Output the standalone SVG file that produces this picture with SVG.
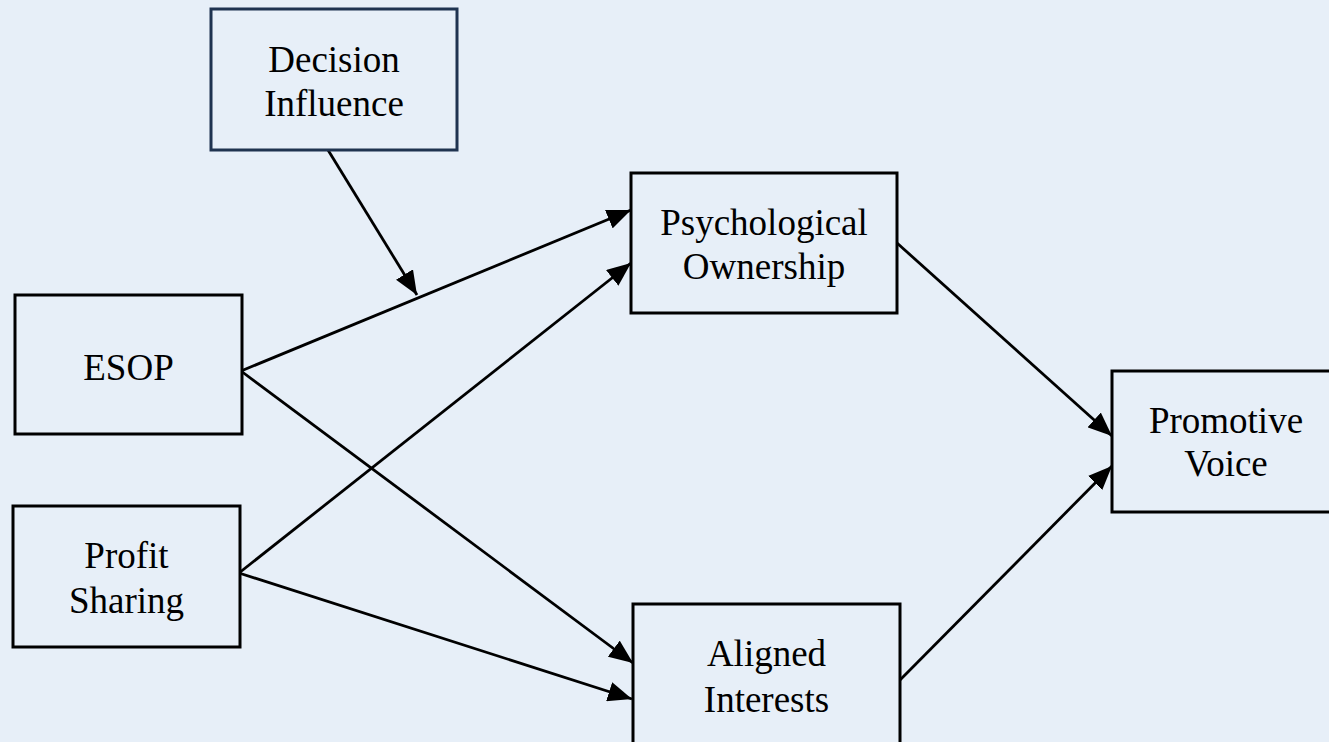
<svg xmlns="http://www.w3.org/2000/svg" width="1329" height="742" viewBox="0 0 1329 742">
<style>
.box{fill:#E7EFF8;stroke:#000;stroke-width:3}
.nav{stroke:#1F3350}
.t{font-family:"Liberation Serif","Times New Roman",serif;font-size:37px;fill:#000;text-anchor:middle}
.c{stroke:#000;stroke-width:2.8;fill:none;marker-end:url(#ah)}
</style>
<defs>
<marker id="ah" markerUnits="userSpaceOnUse" markerWidth="26" markerHeight="20" viewBox="0 0 26 20" refX="24" refY="10" orient="auto">
<path d="M0,0 L24,10 L0,20 Z" fill="#000"/>
</marker>
</defs>
<rect width="1329" height="742" fill="#E7EFF8"/>
<g id="connectors">
<line class="c" x1="241" y1="371" x2="631" y2="210"/>
<line class="c" x1="241" y1="371" x2="633" y2="663"/>
<line class="c" x1="239" y1="573" x2="631" y2="263"/>
<line class="c" x1="239" y1="573" x2="632" y2="699"/>
<line class="c" x1="897" y1="243" x2="1112" y2="436"/>
<line class="c" x1="900" y1="680" x2="1112" y2="466"/>
<line class="c" x1="328" y1="150" x2="417" y2="295"/>
</g>
<g id="decision">
<rect class="box nav" x="211" y="9" width="246" height="141"/>
<text class="t" x="334" y="72">Decision</text>
<text class="t" x="334" y="116">Influence</text>
</g>
<g id="psych">
<rect class="box" x="631" y="173" width="266" height="140"/>
<text class="t" x="764" y="235">Psychological</text>
<text class="t" x="764" y="279">Ownership</text>
</g>
<g id="esop">
<rect class="box" x="15" y="295" width="227" height="139"/>
<text class="t" x="128.5" y="380">ESOP</text>
</g>
<g id="profit">
<rect class="box" x="13" y="506" width="227" height="141"/>
<text class="t" x="126.5" y="568">Profit</text>
<text class="t" x="126.5" y="613">Sharing</text>
</g>
<g id="aligned">
<rect class="box" x="633" y="604" width="267" height="160"/>
<text class="t" x="766.5" y="666">Aligned</text>
<text class="t" x="766.5" y="712">Interests</text>
</g>
<g id="promotive">
<rect class="box" x="1112" y="371" width="240" height="141"/>
<text class="t" x="1226" y="433">Promotive</text>
<text class="t" x="1226" y="476">Voice</text>
</g>
</svg>
